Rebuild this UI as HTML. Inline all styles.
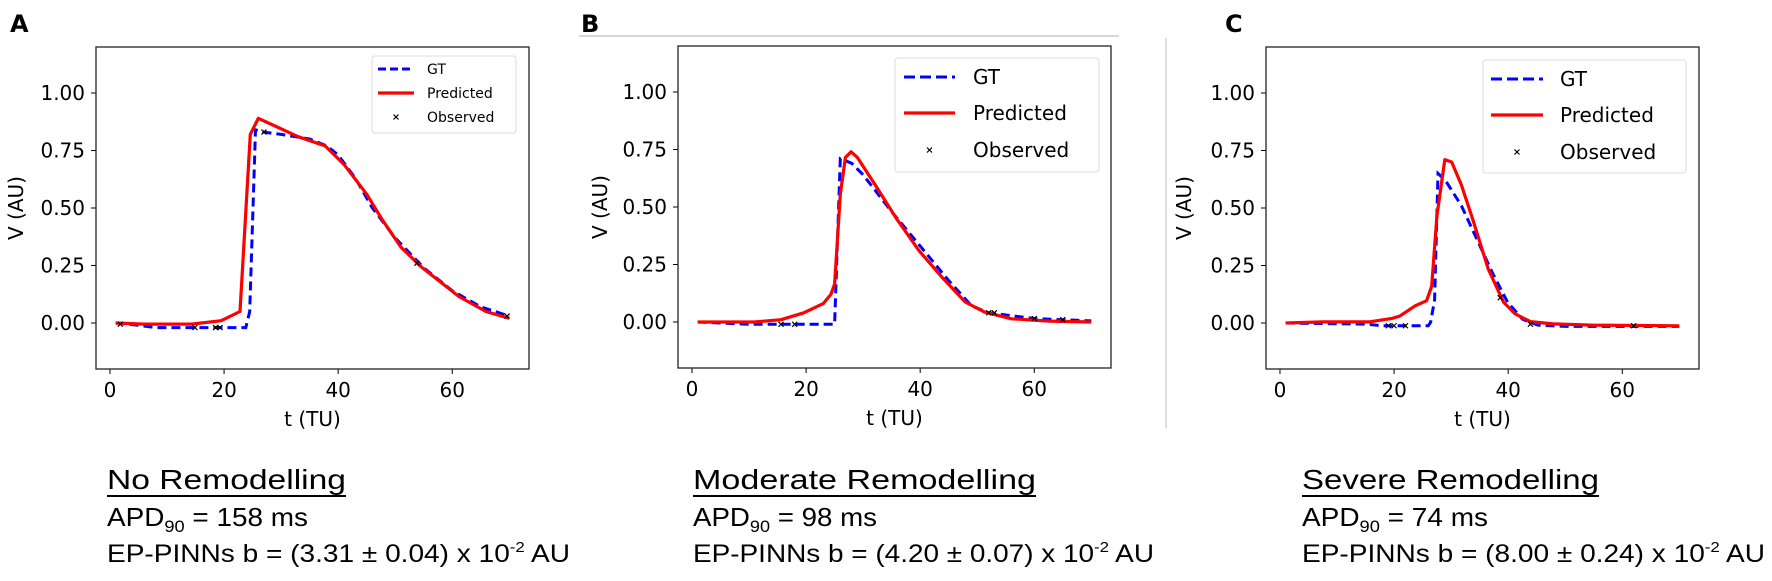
<!DOCTYPE html>
<html><head><meta charset="utf-8"><style>
html,body{margin:0;padding:0;background:#fff;}
svg{display:block;}
text{font-family:"DejaVu Sans","Liberation Sans",sans-serif;}
.cap{font-family:"Liberation Sans",sans-serif;fill:#000;}
</style></head><body>
<svg id="fig" width="1772" height="581" viewBox="0 0 1772 581" xmlns="http://www.w3.org/2000/svg">
<rect x="0" y="0" width="1772" height="581" fill="#fff"/>
<line x1="579" y1="36" x2="1119" y2="36" stroke="#c8c8c8" stroke-width="1.5"/>
<line x1="1166" y1="38" x2="1166" y2="428" stroke="#d4d4d4" stroke-width="1.5"/>
<text x="10" y="32" font-family="Liberation Sans" font-weight="bold" font-size="24">A</text>
<text x="581" y="32" font-family="Liberation Sans" font-weight="bold" font-size="24">B</text>
<text x="1225" y="32" font-family="Liberation Sans" font-weight="bold" font-size="24">C</text>

<g>
<text class="cap" x="107" y="489" font-size="28" textLength="239" lengthAdjust="spacingAndGlyphs">No Remodelling</text>
<line x1="107" y1="496" x2="346" y2="496" stroke="#000" stroke-width="2"/>
<text class="cap" x="107" y="526" font-size="26" textLength="201" lengthAdjust="spacingAndGlyphs">APD<tspan font-size="17" dy="6">90</tspan><tspan dy="-6"> = 158 ms</tspan></text>
<text class="cap" x="107" y="562" font-size="25" textLength="463" lengthAdjust="spacingAndGlyphs">EP-PINNs b = (3.31 ± 0.04) x 10<tspan font-size="15" dy="-10">-2</tspan><tspan dy="10"> AU</tspan></text>
</g>
<g>
<text class="cap" x="693" y="489" font-size="28" textLength="343" lengthAdjust="spacingAndGlyphs">Moderate Remodelling</text>
<line x1="693" y1="496" x2="1036" y2="496" stroke="#000" stroke-width="2"/>
<text class="cap" x="693" y="526" font-size="26" textLength="184" lengthAdjust="spacingAndGlyphs">APD<tspan font-size="17" dy="6">90</tspan><tspan dy="-6"> = 98 ms</tspan></text>
<text class="cap" x="693" y="562" font-size="25" textLength="461" lengthAdjust="spacingAndGlyphs">EP-PINNs b = (4.20 ± 0.07) x 10<tspan font-size="15" dy="-10">-2</tspan><tspan dy="10"> AU</tspan></text>
</g>
<g>
<text class="cap" x="1302" y="489" font-size="28" textLength="297" lengthAdjust="spacingAndGlyphs">Severe Remodelling</text>
<line x1="1302" y1="496" x2="1599" y2="496" stroke="#000" stroke-width="2"/>
<text class="cap" x="1302" y="526" font-size="26" textLength="186" lengthAdjust="spacingAndGlyphs">APD<tspan font-size="17" dy="6">90</tspan><tspan dy="-6"> = 74 ms</tspan></text>
<text class="cap" x="1302" y="562" font-size="25" textLength="463" lengthAdjust="spacingAndGlyphs">EP-PINNs b = (8.00 ± 0.24) x 10<tspan font-size="15" dy="-10">-2</tspan><tspan dy="10"> AU</tspan></text>
</g>
</svg>
<script>
// ---- data ----
const xTicks = [0, 20, 40, 60];
const yTicks = [0.00, 0.25, 0.50, 0.75, 1.00];
const yTickLabels = ["0.00", "0.25", "0.50", "0.75", "1.00"];

const gtA_t = [1, 5, 8, 15, 20, 23.8, 24.5, 25.5, 27, 30, 35, 38, 40, 43, 46, 50, 55, 60, 65, 70];
const gtA_v = [0, -0.01, -0.02, -0.02, -0.02, -0.02, 0.05, 0.84, 0.83, 0.82, 0.80, 0.77, 0.73, 0.63, 0.50, 0.37, 0.24, 0.14, 0.07, 0.03];
const prA_t = [1, 6, 14.3, 19.5, 22.8, 24.6, 26, 33, 37.7, 41, 45, 47.7, 51, 54.5, 61.2, 65.9, 70];
const prA_v = [0, -0.005, -0.005, 0.01, 0.05, 0.82, 0.89, 0.81, 0.77, 0.69, 0.56, 0.45, 0.33, 0.245, 0.115, 0.05, 0.02];
const obA_t = [1.8, 14.9, 18.5, 19.3, 27, 53.8, 69.6];
const obA_v = [-0.005, -0.02, -0.02, -0.02, 0.83, 0.26, 0.03];

const gtB_t = [1, 10, 15, 20, 25, 26, 28, 30, 35, 40, 45, 49, 52, 60, 70];
const gtB_v = [0, -0.01, -0.01, -0.01, -0.01, 0.71, 0.69, 0.64, 0.48, 0.33, 0.18, 0.07, 0.04, 0.015, 0.005];
const prB_t = [1, 10.9, 15.6, 19.6, 23, 24.35, 25, 26, 26.9, 27.9, 29, 32.4, 35.7, 39.8, 43.8, 47.9, 51.3, 56, 62.7, 70];
const prB_v = [0, 0, 0.01, 0.04, 0.08, 0.12, 0.165, 0.555, 0.715, 0.74, 0.715, 0.585, 0.455, 0.31, 0.195, 0.087, 0.043, 0.014, 0.004, 0];
const obB_t = [15.6, 18, 52, 53, 60, 65];
const obB_v = [-0.01, -0.01, 0.04, 0.04, 0.015, 0.01];

const gtC_t = [1, 15, 18, 26, 26.4, 27.1, 27.7, 29, 31.8, 34.5, 37.2, 39.9, 42.5, 45.2, 50, 60, 70];
const gtC_v = [0, -0.005, -0.012, -0.012, 0.003, 0.1, 0.65, 0.62, 0.51, 0.365, 0.22, 0.09, 0.017, -0.009, -0.015, -0.015, -0.015];
const prC_t = [1, 7.6, 15.6, 19.6, 21, 23.7, 25.7, 26.6, 27.5, 28.9, 30.1, 31.8, 33.8, 36.5, 39.2, 41.2, 43.9, 47.9, 54.6, 70];
const prC_v = [0, 0.005, 0.005, 0.02, 0.03, 0.075, 0.097, 0.16, 0.465, 0.71, 0.70, 0.60, 0.45, 0.235, 0.09, 0.04, 0.006, -0.004, -0.009, -0.012];
const obC_t = [19, 20, 22, 38.6, 43.9, 62];
const obC_v = [-0.012, -0.012, -0.012, 0.11, -0.005, -0.012];

// ---- layout ----
const NS = "http://www.w3.org/2000/svg";
const svg = document.getElementById('fig');
const X_MIN = -2.45, X_MAX = 73.45, Y_MIN = -0.2, Y_MAX = 1.2;

function mk(tag, attrs, parent) {
  const e = document.createElementNS(NS, tag);
  for (const k in attrs) e.setAttribute(k, attrs[k]);
  parent.appendChild(e);
  return e;
}

const panels = [
  {id: 'a', box: [96, 47, 529, 369], ylab: 16, gt: [gtA_t, gtA_v], pr: [prA_t, prA_v], ob: [obA_t, obA_v],
   leg: {x: 372, y: 56, w: 144, h: 77, rows: [69, 93, 117], hx1: 378, hx2: 414, tx: 427, fs: 14}},
  {id: 'b', box: [678, 46, 1111, 368], ylab: 600, gt: [gtB_t, gtB_v], pr: [prB_t, prB_v], ob: [obB_t, obB_v],
   leg: {x: 895, y: 58, w: 204, h: 114, rows: [77, 113, 150], hx1: 904, hx2: 955, tx: 973, fs: 20}},
  {id: 'c', box: [1266, 47, 1699, 369], ylab: 1184, gt: [gtC_t, gtC_v], pr: [prC_t, prC_v], ob: [obC_t, obC_v],
   leg: {x: 1483, y: 60, w: 203, h: 113, rows: [79, 115, 152], hx1: 1491, hx2: 1543, tx: 1560, fs: 20}}
];

panels.forEach(p => {
  const [x0, y0, x1, y1] = p.box;
  const sx = t => x0 + (t - X_MIN) / (X_MAX - X_MIN) * (x1 - x0);
  const sy = v => y1 - (v - Y_MIN) / (Y_MAX - Y_MIN) * (y1 - y0);
  const g = mk('g', {}, svg);
  
  

  const clipId = 'clip-' + p.id;
  const cp = mk('clipPath', {id: clipId}, mk('defs', {}, g));
  mk('rect', {x: x0, y: y0, width: x1 - x0, height: y1 - y0}, cp);

  xTicks.forEach(t => {
    const tk = mk('line', {x1: sx(t), x2: sx(t), y1: y1, y2: y1 + 5, stroke: '#000', 'stroke-width': 1}, g);
    
    
    const tl = mk('text', {x: sx(t), y: y1 + 28, 'text-anchor': 'middle', 'font-size': 20}, g);
    
    
    tl.textContent = String(t);
  });
  yTicks.forEach((v, i) => {
    const tk = mk('line', {x1: x0 - 5, x2: x0, y1: sy(v), y2: sy(v), stroke: '#000', 'stroke-width': 1}, g);
    
    
    const tl = mk('text', {x: x0 - 11, y: sy(v) + 7, 'text-anchor': 'end', 'font-size': 20}, g);
    
    
    tl.textContent = yTickLabels[i];
  });
  const xl = mk('text', {x: (x0 + x1) / 2, y: y1 + 57, 'text-anchor': 'middle', 'font-size': 20}, g);
  
  
  xl.textContent = 't (TU)';
  const yl = mk('text', {x: 0, y: 0, 'text-anchor': 'middle', 'font-size': 20,
    transform: `translate(${p.ylab + 7},${(y0 + y1) / 2}) rotate(-90)`}, g);
  
  
  yl.textContent = 'V (AU)';

  const plot = mk('g', {'clip-path': `url(#${clipId})`}, g);
  const path = (ts, vs) => ts.map((t, i) => (i ? 'L' : 'M') + sx(t).toFixed(1) + ',' + sy(vs[i]).toFixed(1)).join('');
  const gl = mk('path', {d: path(p.gt[0], p.gt[1]), fill: 'none', stroke: '#0000ff', 'stroke-width': 3, 'stroke-dasharray': '9,5'}, plot);
  
  
  const pl = mk('path', {d: path(p.pr[0], p.pr[1]), fill: 'none', stroke: '#ff0000', 'stroke-width': 3.2, 'stroke-linejoin': 'round'}, plot);
  
  
  p.ob[0].forEach((t, i) => {
    const cx = sx(t), cy = sy(p.ob[1][i]), r = 2.5;
    const m = mk('path', {d: `M${cx - r},${cy - r}L${cx + r},${cy + r}M${cx - r},${cy + r}L${cx + r},${cy - r}`, stroke: '#000', 'stroke-width': 1.2}, plot);
    
    
  });

  const frame = mk('rect', {x: x0, y: y0, width: x1 - x0, height: y1 - y0, fill: 'none', stroke: '#222', 'stroke-width': 1.3}, g);
  
  

  const L = p.leg;
  const lg = mk('g', {}, g);
  
  
  mk('rect', {x: L.x, y: L.y, width: L.w, height: L.h, rx: 3, fill: '#fff', 'fill-opacity': 0.8, stroke: '#dcdcdc', 'stroke-width': 1}, lg);
  const names = ['GT', 'Predicted', 'Observed'];
  names.forEach((n, i) => {
    const cy = L.rows[i];
    const e = mk('g', {}, lg);
    
    
    if (i === 0) mk('line', {x1: L.hx1, x2: L.hx2, y1: cy, y2: cy, stroke: '#0000ff', 'stroke-width': 3, 'stroke-dasharray': L.fs > 15 ? '11,5' : '8,4'}, e);
    if (i === 1) mk('line', {x1: L.hx1, x2: L.hx2, y1: cy, y2: cy, stroke: '#ff0000', 'stroke-width': 3.2}, e);
    if (i === 2) { const cx = (L.hx1 + L.hx2) / 2, r = 2.5;
      mk('path', {d: `M${cx - r},${cy - r}L${cx + r},${cy + r}M${cx - r},${cy + r}L${cx + r},${cy - r}`, stroke: '#000', 'stroke-width': 1.2}, e); }
    const tx = mk('text', {x: L.tx, y: cy + L.fs * 0.36, 'font-size': L.fs}, e);
    tx.textContent = n;
  });
});
</script>
</body></html>
